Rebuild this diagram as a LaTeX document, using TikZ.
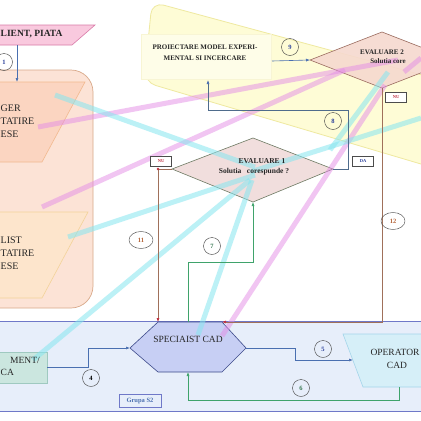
\documentclass[tikz,border=0pt]{standalone}
\usepackage{fontspec}
\setmainfont{Liberation Serif}
\usetikzlibrary{arrows.meta,shapes.geometric}
\definecolor{yelF}{HTML}{FEFCD6}
\definecolor{yelD}{HTML}{EFE9A0}
\definecolor{orF}{HTML}{FCE3D6}
\definecolor{orD}{HTML}{D9A98A}
\definecolor{mgF}{HTML}{FBD5C1}
\definecolor{mgD}{HTML}{F2B98F}
\definecolor{lsF}{HTML}{FDE5CC}
\definecolor{lsD}{HTML}{F3D39A}
\definecolor{clF}{HTML}{F9C9DE}
\definecolor{clD}{HTML}{D97AA8}
\definecolor{grF}{HTML}{E7EEFA}
\definecolor{grD}{HTML}{6F78C8}
\definecolor{tlF}{HTML}{CBE6DF}
\definecolor{tlD}{HTML}{9FC9C0}
\definecolor{spF}{HTML}{C7CFF4}
\definecolor{spD}{HTML}{3D4A8A}
\definecolor{opF}{HTML}{D6EFF8}
\definecolor{opD}{HTML}{A5D5EA}
\definecolor{evtF}{HTML}{F6D9CF}
\definecolor{evtD}{HTML}{9A6B5E}
\definecolor{evoF}{HTML}{F1DEDD}
\definecolor{evoD}{HTML}{6E7A63}
\definecolor{blueL}{HTML}{4A6FB0}
\definecolor{slateL}{HTML}{4F6C8C}
\definecolor{brownL}{HTML}{A0705A}
\definecolor{redT}{HTML}{C03040}
\definecolor{greenL}{HTML}{3FA36B}
\definecolor{pinkB}{HTML}{E48CE6}
\definecolor{cyanB}{HTML}{86E6F0}
\definecolor{numBlue}{HTML}{2A3F9A}
\definecolor{numBrown}{HTML}{B5653A}
\definecolor{numGreen}{HTML}{3A7A55}
\begin{document}
\begin{tikzpicture}[x=1pt,y=-1pt,
  every node/.style={inner sep=0pt, text=black!85},
  pinkbeam/.style={draw=pinkB, line width=5pt, opacity=.5},
  cyanbeam/.style={draw=cyanB, line width=5pt, opacity=.55},
  conn/.style={line width=.6pt},
  tip/.style={-{Latex[length=4pt,width=3pt]}},
  bigtxt/.style={font=\fontsize{10}{13}\selectfont},
  midtxt/.style={font=\fontsize{9.5}{13}\selectfont},
  boldtxt/.style={font=\bfseries\fontsize{7}{10}\selectfont},
  tagbox/.style={draw=black!70, fill=white, minimum width=21pt, minimum height=10pt, font=\bfseries\fontsize{4.5}{5}\selectfont},
  numcirc/.style={draw=black!75, circle, minimum size=17pt, font=\bfseries\fontsize{6.5}{7}\selectfont},
  numell/.style={draw=black!75, ellipse, minimum width=24pt, minimum height=17pt, font=\bfseries\fontsize{6.5}{7}\selectfont}]
\useasboundingbox (0,0) rectangle (421,421);
\fill[white] (0,0) rectangle (421,421);
\begin{scope}
\clip (0,0) rectangle (421,421);
% yellow region
\filldraw[fill=yelF, draw=yelD, line width=.8pt, rounded corners=12pt] (152,2) -- (470,88) -- (448,172) -- (144,82) -- cycle;
\node[draw=yelD!45, fill=yelF!55, minimum width=130pt, minimum height=45pt] (proj) at (206,57) {};
% orange group
\filldraw[fill=orF, draw=orD, line width=.7pt, rounded corners=22pt] (-30,70) rectangle (93,308);
\filldraw[fill=mgF, draw=mgD, line width=.6pt] (-10,82) -- (85,82) -- (42,162) -- (-10,162) -- cycle;
\filldraw[fill=lsF, draw=lsD, line width=.6pt] (-10,212) -- (88,212) -- (42,298) -- (-10,298) -- cycle;
% client
\filldraw[fill=clF, draw=clD, line width=.6pt] (-10,25) -- (95,25) -- (72,45) -- (-10,45) -- cycle;
% grupa S2
\filldraw[fill=grF, draw=grD, line width=.8pt] (-2,321) rectangle (423,411);
\filldraw[fill=tlF, draw=tlD, line width=.6pt] (-2,352) rectangle (47,383);
\coordinate (tE) at (47,367);
% specialist hexagon
\coordinate (spW) at (130,348);
\coordinate (spNW) at (158,322);
\coordinate (spNE) at (222,322);
\coordinate (spE) at (246,348);
\coordinate (spSE) at (222,372);
\coordinate (spSW) at (158,372);
\coordinate (spN) at (188,322);
\coordinate (spS) at (188,372);
\filldraw[fill=spF, draw=spD, line width=.6pt] (spW) -- (spNW) -- (spNE) -- (spE) -- (spSE) -- (spSW) -- cycle;
% operator
\filldraw[fill=opF, draw=opD, line width=.6pt] (343,334) -- (430,334) -- (430,387) -- (363,387) -- cycle;
\coordinate (opW) at (353,360);
\coordinate (opS) at (399,387);
% diamonds
\coordinate (ev2W) at (310,60);
\coordinate (ev2N) at (382,32);
\coordinate (ev2E) at (454,60);
\coordinate (ev2S) at (382,88);
\filldraw[fill=evtF, fill opacity=.9, draw=evtD, line width=.6pt] (ev2W) -- (ev2N) -- (ev2E) -- (ev2S) -- cycle;
\coordinate (e1W) at (172,169);
\coordinate (e1N) at (253,138);
\coordinate (e1E) at (333,169);
\coordinate (e1S) at (253,202);
\filldraw[fill=evoF, draw=evoD, line width=.6pt] (e1W) -- (e1N) -- (e1E) -- (e1S) -- cycle;
% beams
\draw[pinkbeam] (38,127) -- (398,60);
\draw[pinkbeam] (42,207) -- (345,70);
\draw[pinkbeam] (385,85) -- (222,336);
\draw[pinkbeam] (404,72) -- (421,58);
\draw[cyanbeam] (55,95) -- (255,167);
\draw[cyanbeam] (68,237) -- (255,175);
\draw[cyanbeam] (33,360) -- (250,180);
\draw[cyanbeam] (198,335) -- (252,180);
\draw[cyanbeam] (250,172) -- (421,118);
\draw[cyanbeam] (388,72) -- (330,150);
% connectors
\coordinate (clientS) at (17,45);
\coordinate (mgrN) at (17,82);
\draw[conn, draw=blueL, tip] (clientS) -- (mgrN);
\coordinate (p9) at (272,61);
\draw[conn, draw=blueL, tip] (p9) -- (ev2W);
\coordinate (projB) at (208,80);
\draw[conn, draw=slateL, -{Latex[length=4pt,width=3pt,color=blueL]}] (e1E) -- ++(15,0) -- ++(0,-59) -| (projB);
\draw[conn, draw=brownL, -{Latex[length=4pt,width=3pt,color=redT]}] (ev2S) |- (spNE);
\coordinate (nuturn) at (158,169);
\draw[conn, draw=brownL, -{Latex[length=4pt,width=3pt,color=redT]}] (e1W) -- (nuturn) -- (spNW);
\fill[redT] (nuturn) circle (1.4pt);
\draw[conn, draw=greenL, tip] (spN) -- ++(0,-60) -| (e1S);
\draw[conn, draw=blueL, tip] (tE) -- ++(41,0) |- (spW);
\draw[conn, draw=blueL, tip] (spE) -- ++(49,0) |- (opW);
\draw[conn, draw=greenL, tip] (opS) -- ++(0,13) -| (spS);
% texts
\node[font=\bfseries\fontsize{9.5}{10}\selectfont, anchor=west] (tclient) at (0.5,34) {LIENT, PIATA};
\node[bigtxt, anchor=west] (tm1) at (0.5,108) {GER};
\node[bigtxt, anchor=west] (tm2) at (0.5,121) {TATIRE};
\node[bigtxt, anchor=west] (tm3) at (0.5,134) {ESE};
\node[bigtxt, anchor=west] (tl1) at (0.5,240) {LIST};
\node[bigtxt, anchor=west] (tl2) at (0.5,253) {TATIRE};
\node[bigtxt, anchor=west] (tl3) at (0.5,266) {ESE};
\node[midtxt, anchor=east] (tt1) at (40,360) {MENT/};
\node[midtxt, anchor=west] (tt2) at (0.5,372) {CA};
\node[midtxt] (tsp) at (188,339) {SPECIAIST CAD};
\node[midtxt] (top1) at (395,352) {OPERATOR};
\node[midtxt] (top2) at (397,365) {CAD};
\node[boldtxt] (tproj1) at (205,47) {PROIECTARE MODEL EXPERI-};
\node[boldtxt] (tproj2) at (205,58) {MENTAL SI INCERCARE};
\node[font=\bfseries\fontsize{7}{8}\selectfont] (tev2a) at (382,52) {EVALUARE 2};
\node[font=\bfseries\fontsize{7}{8}\selectfont] (tev2b) at (388,61) {Solutia core};
\node[font=\bfseries\fontsize{7.5}{8}\selectfont] (tev1a) at (262,161) {EVALUARE 1};
\node[font=\bfseries\fontsize{7.5}{8}\selectfont] (tev1b) at (254,172) {Solutia\ \ \ corespunde ?};
\node[tagbox, text=redT] (nu1) at (161,161) {NU};
\node[tagbox, text=redT] (nu2) at (396,97) {NU};
\node[tagbox, text=numBlue] (da) at (363,161) {DA};
\node[draw=grD, fill=grF, minimum width=42pt, minimum height=13pt, font=\bfseries\fontsize{6.5}{7}\selectfont, text=blueL] (grp) at (140,401) {Grupa S2};
% numbers
\node[numcirc, text=numBlue] (c1) at (4,62) {1};
\node[numcirc, text=numBlue] (c9) at (290,47) {9};
\node[numcirc, text=numBlue] (c8) at (333,121) {8};
\node[numell, text=numBrown] (c11) at (141,240) {11};
\node[numell, text=numBrown] (c12) at (393,221) {12};
\node[numcirc, text=numGreen] (c7) at (212,246) {7};
\node[numcirc, text=black] (c4) at (91,378) {4};
\node[numcirc, text=numBlue] (c5) at (323,349) {5};
\node[numcirc, text=numGreen] (c6) at (301,388) {6};
\end{scope}
\end{tikzpicture}
\end{document}
